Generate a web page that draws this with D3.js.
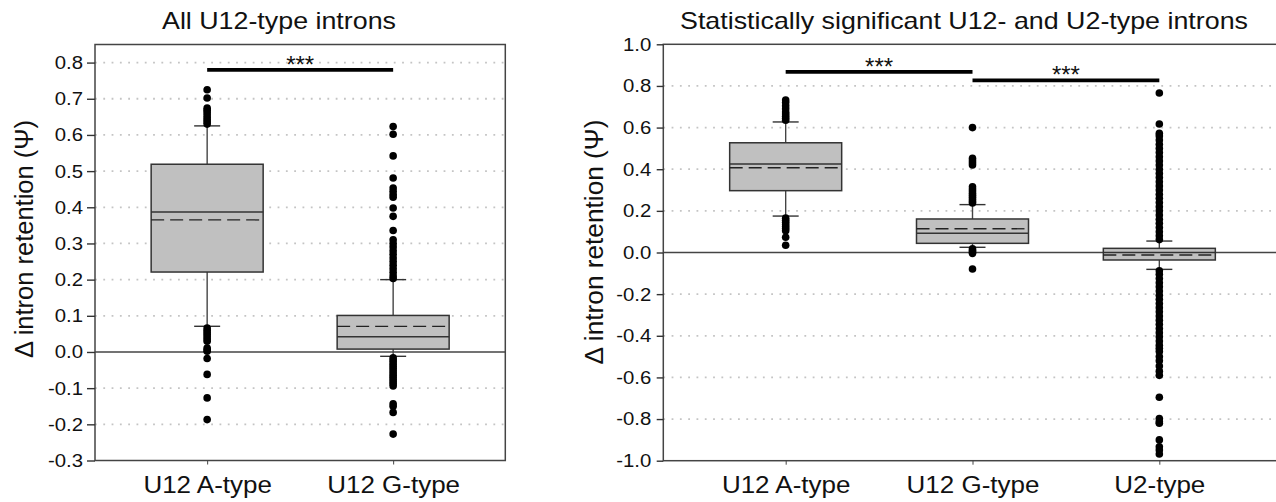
<!DOCTYPE html>
<html>
<head>
<meta charset="utf-8">
<script src="https://cdn.jsdelivr.net/npm/d3@7"></script>
<style>
  body { margin: 0; background: #fff; }
  text { font-family: "Liberation Sans", Arial, sans-serif; fill: #111; }
</style>
</head>
<body>
<svg id="chart"></svg>
<script>
// ---- left panel: all U12-type introns ----
const leftCategories = ["U12 A-type", "U12 G-type"];
const leftQ1      = [0.221, 0.008];
const leftMedian  = [0.387, 0.042];
const leftQ3      = [0.519, 0.101];
const leftMean    = [0.365, 0.071];
const leftWhiskLo = [0.071, -0.012];
const leftWhiskHi = [0.625, 0.200];
const leftOutliers = [
  [0.725, 0.702, 0.674, 0.668, 0.662, 0.655, 0.648, 0.642, 0.636, 0.630,
   0.066, 0.060, 0.054, 0.048, 0.042, 0.036, 0.030, 0.011, 0.006, 0.002,
   -0.018, -0.062, -0.127, -0.187],
  [0.623, 0.602, 0.542, 0.481, 0.453, 0.444, 0.435, 0.428, 0.398, 0.375,
   0.336, 0.310, 0.300, 0.290, 0.280, 0.270, 0.260, 0.250, 0.240, 0.230,
   0.220, 0.210, 0.203,
   -0.016, -0.022, -0.028, -0.034, -0.040, -0.046, -0.052, -0.058, -0.064,
   -0.070, -0.076, -0.082, -0.088, -0.094, -0.143, -0.150, -0.167, -0.227]
];
const leftTicks = [-0.3, -0.2, -0.1, 0.0, 0.1, 0.2, 0.3, 0.4, 0.5, 0.6, 0.7, 0.8];
const leftSigPairs = [["U12 A-type", "U12 G-type"]];
const leftSigLevel = [0.78];

// ---- right panel: significant U12- and U2-type introns ----
const rightCategories = ["U12 A-type", "U12 G-type", "U2-type"];
const rightQ1      = [0.297, 0.044, -0.036];
const rightMedian  = [0.425, 0.092, 0.000];
const rightQ3      = [0.527, 0.161, 0.020];
const rightMean    = [0.407, 0.114, -0.012];
const rightWhiskLo = [0.175, 0.025, -0.081];
const rightWhiskHi = [0.627, 0.230, 0.055];
const rightOutliers = [
  [0.732, 0.720, 0.705, 0.690, 0.675, 0.665, 0.655, 0.645, 0.635,
   0.165, 0.155, 0.145, 0.135, 0.125, 0.115, 0.105, 0.073, 0.035],
  [0.600, 0.452, 0.440, 0.430, 0.420, 0.316, 0.305, 0.295, 0.285, 0.275,
   0.265, 0.255, 0.245, 0.238,
   0.018, 0.010, 0.003, -0.004, -0.079],
  [0.766, 0.617, 0.572, 0.560, 0.540, 0.520, 0.500, 0.480, 0.460, 0.440,
   0.420, 0.400, 0.380, 0.360, 0.340, 0.320, 0.300, 0.280, 0.260, 0.240,
   0.220, 0.200, 0.180, 0.160, 0.140, 0.120, 0.100, 0.080, 0.062,
   -0.088, -0.105, -0.125, -0.145, -0.165, -0.185, -0.205, -0.225, -0.245,
   -0.265, -0.285, -0.305, -0.325, -0.345, -0.365, -0.385, -0.405, -0.425,
   -0.445, -0.460, -0.475, -0.500, -0.520, -0.545, -0.570, -0.590,
   -0.695, -0.797, -0.813, -0.820, -0.900, -0.933, -0.949, -0.968]
];
const rightTicks = [-1.0, -0.8, -0.6, -0.4, -0.2, 0.0, 0.2, 0.4, 0.6, 0.8, 1.0];
const rightSigPairs = [["U12 A-type", "U12 G-type"], ["U12 G-type", "U2-type"]];
const rightSigLevel = [0.868, 0.827];

const yLabel = "\u0394 intron retention (\u03A8)";

const svg = d3.select("#chart").attr("width", 1276).attr("height", 502);

function drawPanel(p) {
  const x = d3.scalePoint().domain(p.categories).range(p.xRange).padding(p.pad);
  const y = d3.scaleLinear().domain(p.yDomain).range(p.yRange);
  const [x0, x1] = p.xRange;
  const boxW = 112, capW = 26;
  const g = svg.append("g");

  const rows = p.categories.map((c, i) => ({
    c: c, q1: p.q1[i], med: p.median[i], q3: p.q3[i], mean: p.mean[i],
    lo: p.lo[i], hi: p.hi[i], out: p.outliers[i]
  }));

  // dotted grid
  g.selectAll(".grid")
    .data(p.ticks.filter(t => t !== 0 && t > p.yDomain[0] && t < p.yDomain[1]))
    .enter().append("line")
    .attr("x1", x0).attr("x2", x1)
    .attr("y1", d => y(d)).attr("y2", d => y(d))
    .attr("stroke", "#c4c4c4").attr("stroke-width", 1.8)
    .attr("stroke-dasharray", "1.8,6.5");

  // zero line
  g.append("line")
    .attr("x1", x0).attr("x2", x1).attr("y1", y(0)).attr("y2", y(0))
    .attr("stroke", "#444").attr("stroke-width", 1.4);

  // whiskers
  rows.forEach(d => {
    const cx = x(d.c);
    [[d.q3, d.hi], [d.q1, d.lo]].forEach(([a, b]) => {
      g.append("line").attr("x1", cx).attr("x2", cx).attr("y1", y(a)).attr("y2", y(b))
        .attr("stroke", "#444").attr("stroke-width", 1.4);
      g.append("line").attr("x1", cx - capW / 2).attr("x2", cx + capW / 2)
        .attr("y1", y(b)).attr("y2", y(b))
        .attr("stroke", "#333").attr("stroke-width", 1.4);
    });
  });

  // boxes
  g.selectAll(".box").data(rows).enter().append("rect")
    .attr("x", d => x(d.c) - boxW / 2)
    .attr("y", d => y(d.q3))
    .attr("width", boxW)
    .attr("height", d => y(d.q1) - y(d.q3))
    .attr("fill", "#c0c0c0").attr("stroke", "#333").attr("stroke-width", 1.5);

  g.selectAll(".median").data(rows).enter().append("line")
    .attr("x1", d => x(d.c) - boxW / 2).attr("x2", d => x(d.c) + boxW / 2)
    .attr("y1", d => y(d.med)).attr("y2", d => y(d.med))
    .attr("stroke", "#333").attr("stroke-width", 1.5);

  g.selectAll(".mean").data(rows).enter().append("line")
    .attr("x1", d => x(d.c) - boxW / 2).attr("x2", d => x(d.c) + boxW / 2)
    .attr("y1", d => y(d.mean)).attr("y2", d => y(d.mean))
    .attr("stroke", "#222").attr("stroke-width", 1.3)
    .attr("stroke-dasharray", "13,6");

  // outliers
  rows.forEach(d => {
    g.selectAll(null).data(d.out).enter().append("circle")
      .attr("cx", x(d.c)).attr("cy", v => y(v)).attr("r", 3.8)
      .attr("fill", "#000");
  });

  // frame
  g.append("rect")
    .attr("x", x0).attr("y", p.yRange[1])
    .attr("width", x1 - x0).attr("height", p.yRange[0] - p.yRange[1])
    .attr("fill", "none").attr("stroke", "#444").attr("stroke-width", 1.5);

  // y axis
  const ya = g.append("g").attr("transform", `translate(${x0},0)`)
    .call(d3.axisLeft(y).tickValues(p.ticks).tickSize(p.tickSize)
      .tickFormat(d => d.toFixed(1)));
  ya.select(".domain").remove();
  ya.selectAll("line").attr("stroke", "#333").attr("stroke-width", 1.4);
  ya.selectAll("text")
    .attr("font-size", 18.5)
    .attr("fill", "#111")
    .attr("transform", "scale(1.1,1)")
    .attr("x", -(p.tickSize + p.tickPad) / 1.1);

  // x axis
  const xa = g.append("g").attr("transform", `translate(0,${p.yRange[0]})`)
    .call(d3.axisBottom(x).tickSize(4).tickPadding(12));
  xa.select(".domain").remove();
  xa.selectAll("line").attr("stroke", "#444");
  xa.selectAll("text")
    .attr("font-size", 23)
    .attr("fill", "#111")
    .attr("transform", "scale(1.13,1)");

  // significance bars
  p.sigPairs.forEach(([a, b], i) => {
    const yy = y(p.sigLevel[i]);
    g.append("line").attr("x1", x(a)).attr("x2", x(b)).attr("y1", yy).attr("y2", yy)
      .attr("stroke", "#000").attr("stroke-width", 3.8);
    g.append("text").attr("x", (x(a) + x(b)) / 2).attr("y", yy + 3)
      .attr("text-anchor", "middle").attr("font-size", 24).text("***");
  });

  // title
  g.append("text").attr("x", p.titleX).attr("y", 29)
    .attr("text-anchor", "middle").attr("font-size", 24)
    .attr("textLength", p.titleLen).attr("lengthAdjust", "spacingAndGlyphs")
    .text(p.title);

  // y label
  g.append("text")
    .attr("transform", `translate(${p.labelX},${p.labelY}) rotate(-90)`)
    .attr("text-anchor", "middle").attr("font-size", 26)
    .attr("textLength", p.labelLen).attr("lengthAdjust", "spacingAndGlyphs")
    .text(yLabel);
}

drawPanel({
  categories: leftCategories, q1: leftQ1, median: leftMedian, q3: leftQ3,
  mean: leftMean, lo: leftWhiskLo, hi: leftWhiskHi, outliers: leftOutliers,
  ticks: leftTicks, sigPairs: leftSigPairs, sigLevel: leftSigLevel,
  xRange: [95, 505.3], pad: 0.603, yDomain: [-0.3, 0.85], yRange: [460.5, 44.5],
  tickSize: 8, tickPad: 4,
  title: "All U12-type introns", titleX: 279, titleLen: 234,
  labelX: 33, labelY: 239, labelLen: 238
});

drawPanel({
  categories: rightCategories, q1: rightQ1, median: rightMedian, q3: rightQ3,
  mean: rightMean, lo: rightWhiskLo, hi: rightWhiskHi, outliers: rightOutliers,
  ticks: rightTicks, sigPairs: rightSigPairs, sigLevel: rightSigLevel,
  xRange: [663.3, 1281.7], pad: 0.655, yDomain: [-1, 1], yRange: [460.7, 44.3],
  tickSize: 6.6, tickPad: 5.5,
  title: "Statistically significant U12- and U2-type introns", titleX: 964, titleLen: 568,
  labelX: 603, labelY: 242, labelLen: 245
});
</script>
</body>
</html>
